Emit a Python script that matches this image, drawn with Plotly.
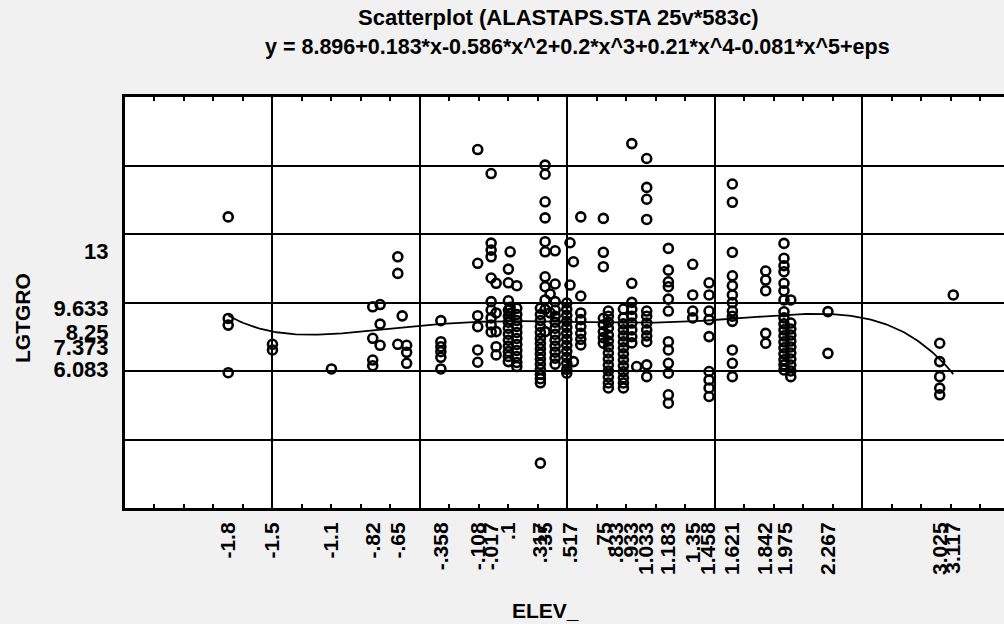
import numpy as np
import plotly.graph_objects as go

# ---------------- data ----------------
elev_columns = [-1.8, -1.5, -1.1, -0.82, -0.77, -0.65, -0.62, -0.59, -0.358,
                -0.108, -0.017, 0.017, 0.1, 0.112, 0.157, 0.317, 0.349, 0.383,
                0.417, 0.496, 0.518, 0.541, 0.591, 0.744, 0.778, 0.88, 0.937,
                0.97, 1.038, 1.185, 1.35, 1.461, 1.619, 1.845, 1.969, 2.015,
                2.267, 3.025, 3.117]

lgtgro_by_column = [
    [15.0, 9.07, 8.68, 5.9],
    [7.56, 7.23],
    [6.12],
    [9.75, 7.91, 6.64, 6.31],
    [9.88, 8.74, 7.5],
    [12.67, 11.7, 7.56],
    [9.22],
    [7.5, 7.09, 6.45],
    [8.94, 7.71, 7.42, 7.13, 6.8, 6.12],
    [18.93, 12.29, 9.23, 8.59, 7.23, 6.51],
    [17.53, 13.47, 13.06, 12.67, 11.43, 10.05, 9.56, 9.1, 8.69, 8.28],
    [11.12, 9.39, 8.3, 7.42, 6.94],
    [11.95, 11.15, 10.1, 9.56, 9.2, 8.85, 8.5, 8.15, 7.8, 7.45, 7.13, 6.85, 6.55],
    [12.96, 9.72, 9.37, 8.98],
    [10.98, 9.66, 9.3, 8.95, 8.6, 8.25, 7.9, 7.55, 7.2, 6.85, 6.5, 6.26],
    [9.66, 9.3, 8.95, 8.6, 8.25, 7.9, 7.6, 7.3, 7.0, 6.7, 6.4, 6.1, 5.8, 5.55, 5.31, 0.62],
    [18.02, 17.49, 15.88, 14.94, 13.55, 12.96, 11.5, 10.92, 10.15, 9.6, 8.3],
    [10.5, 9.4],
    [13.02, 11.08, 10.05, 9.56, 9.2, 8.85, 8.5, 8.15, 7.8, 7.45, 7.1, 6.75, 6.4],
    [9.97, 9.6, 9.25, 8.9, 8.55, 8.2, 7.85, 7.5, 7.15, 6.8, 6.45, 6.1, 5.87],
    [13.49, 11.02],
    [12.38, 6.55],
    [15.0, 10.38, 9.39, 9.0, 8.6, 8.2, 7.85, 7.52],
    [14.91, 12.93, 12.09, 9.08, 8.7, 8.3, 7.95, 7.62],
    [9.5, 9.2, 8.85, 8.5, 8.1, 7.75, 7.4, 7.05, 6.7, 6.35, 6.0, 5.65, 5.3, 5.01],
    [9.62, 9.1, 8.75, 8.4, 8.05, 7.7, 7.35, 7.0, 6.65, 6.3, 5.95, 5.6, 5.3, 5.01],
    [19.28, 11.12, 10.01, 9.6, 9.2, 8.8, 8.4, 8.0, 7.64],
    [6.26],
    [18.41, 16.72, 16.03, 14.85, 9.5, 9.2, 8.8, 8.4, 8.05, 7.71, 6.36, 5.67],
    [13.16, 11.89, 11.21, 10.92, 10.2, 9.5, 7.71, 7.23, 6.45, 5.87, 4.61, 4.12],
    [12.23, 10.44, 9.5, 9.1],
    [11.15, 10.44, 9.5, 9.0, 8.01, 5.97, 5.48, 5.01, 4.51],
    [16.92, 15.85, 12.93, 11.56, 10.98, 10.44, 9.99, 9.5, 9.2, 8.9, 7.23, 6.45, 5.67],
    [11.84, 11.31, 10.69, 8.2, 7.62],
    [13.45, 12.58, 12.15, 11.8, 11.12, 10.69, 10.15, 9.46, 9.1, 8.75, 8.4, 8.05,
     7.7, 7.35, 7.0, 6.65, 6.36, 6.06],
    [10.15, 8.8, 8.45, 8.1, 7.75, 7.4, 7.05, 6.7, 6.35, 6.0, 5.67],
    [9.47, 7.03],
    [7.62, 6.55, 5.67, 5.0, 4.61],
    [10.44],
]

# polynomial fit shown in the title: y = c0 + c1*x + ... + c5*x^5
fit_coefficients = [8.896, 0.183, -0.586, 0.2, 0.21, -0.081]
fit_x_range = [-1.8, 3.117]

x_tick_values = [-1.8, -1.5, -1.1, -0.82, -0.65, -0.358, -0.108, -0.017, 0.1,
                 0.317, 0.35, 0.517, 0.75, 0.833, 0.933, 1.033, 1.183, 1.35,
                 1.458, 1.621, 1.842, 1.975, 2.267, 3.025, 3.117]
x_tick_text = ["-1.8", "-1.5", "-1.1", "-.82", "-.65", "-.358", "-.108", "-.017",
               ".1", ".317", ".35", ".517", ".75", ".833", ".933", "1.033",
               "1.183", "1.35", "1.458", "1.621", "1.842", "1.975", "2.267",
               "3.025", "3.117"]
y_tick_values = [13, 9.633, 8.25, 7.373, 6.083]
y_tick_text = ["13", "9.633", "8.25", "7.373", "6.083"]

title_line1 = "Scatterplot (ALASTAPS.STA 25v*583c)"
title_line2 = "y = 8.896+0.183*x-0.586*x^2+0.2*x^3+0.21*x^4-0.081*x^5+eps"

# ---------------- build ----------------
xs, ys = [], []
for xv, col in zip(elev_columns, lgtgro_by_column):
    for yv in col:
        xs.append(xv)
        ys.append(yv)

fx = np.linspace(fit_x_range[0], fit_x_range[1], 300)
fy = sum(c * fx ** i for i, c in enumerate(fit_coefficients))

FONT = "Liberation Sans, Arial, sans-serif"
XR = [-2.5, 3.461]
YR = [-2, 22]

fig = go.Figure()
fig.add_trace(go.Scatter(
    x=xs, y=ys, mode="markers",
    marker=dict(symbol="circle-open", size=9, color="black",
                line=dict(width=2.6, color="black")),
    hoverinfo="x+y", showlegend=False))
fig.add_trace(go.Scatter(
    x=fx, y=fy, mode="lines", xaxis="x2", yaxis="y2",
    line=dict(color="black", width=1.8), showlegend=False))

W, H = 1004, 624
ML, MR, MT, MB = 125, 0, 97, 116
pw, ph = W - ML - MR, H - MT - MB


def px(xp):
    return (xp - ML) / pw


def py(yp):
    return (H - MB - yp) / ph


def bold(s):
    return "<b>" + s + "</b>"


tick_font = dict(family=FONT, size=21, color="black", weight="bold")

fig.update_layout(
    width=W, height=H,
    margin=dict(l=ML, r=MR, t=MT, b=MB, pad=0, autoexpand=False),
    paper_bgcolor="#f1f1f1",
    plot_bgcolor="white",
    font=dict(family=FONT, color="black"),
    xaxis=dict(range=XR, tickmode="array", tickvals=x_tick_values,
               ticktext=x_tick_text, tickangle=-90, tickfont=tick_font,
               ticks="", showgrid=False, zeroline=False,
               showline=True, linewidth=3, linecolor="black", mirror=True,
               ticklabelstandoff=3, automargin=False),
    yaxis=dict(range=YR, tickmode="array", tickvals=y_tick_values,
               ticktext=y_tick_text, tickfont=dict(tick_font, size=22), ticks="",
               showgrid=False, zeroline=False,
               showline=True, linewidth=3, linecolor="black", mirror=True,
               ticklabelstandoff=9, automargin=False),
    xaxis2=dict(range=XR, overlaying="x", anchor="y2", side="bottom",
                tickmode="linear", tick0=-2.5, dtick=1,
                showgrid=True, gridcolor="black", gridwidth=2,
                showticklabels=False, ticks="inside", ticklen=5,
                tickcolor="black", tickwidth=1.5, mirror="allticks",
                minor=dict(tickmode="linear", tick0=-2.5, dtick=0.2,
                           ticks="inside", ticklen=4, tickcolor="black",
                           tickwidth=1.5, showgrid=False),
                zeroline=False, showline=False),
    yaxis2=dict(range=YR, overlaying="y", anchor="x2", side="left",
                tickmode="linear", tick0=-2, dtick=4,
                showgrid=True, gridcolor="black", gridwidth=2,
                showticklabels=False, ticks="", zeroline=False,
                showline=False),
    annotations=[
        dict(text=bold(title_line1), xref="paper", yref="paper", x=px(558), y=py(18),
             xanchor="center", yanchor="middle", showarrow=False,
             font=dict(family=FONT, size=22, color="black")),
        dict(text=bold(title_line2), xref="paper", yref="paper", x=px(577), y=py(47),
             xanchor="center", yanchor="middle", showarrow=False,
             font=dict(family=FONT, size=21.5, color="black")),
        dict(text=bold("LGTGRO"), xref="paper", yref="paper", x=px(22), y=py(318),
             xanchor="center", yanchor="middle", showarrow=False, textangle=-90,
             font=dict(family=FONT, size=21, color="black")),
        dict(text=bold("ELEV_"), xref="paper", yref="paper", x=px(545), y=py(610),
             xanchor="center", yanchor="middle", showarrow=False,
             font=dict(family=FONT, size=21, color="black")),
    ],
)

fig.write_html("out.html",
               config={"displayModeBar": False},
               post_script="document.body.style.margin='0px';"
                           "document.body.style.overflow='hidden';")
